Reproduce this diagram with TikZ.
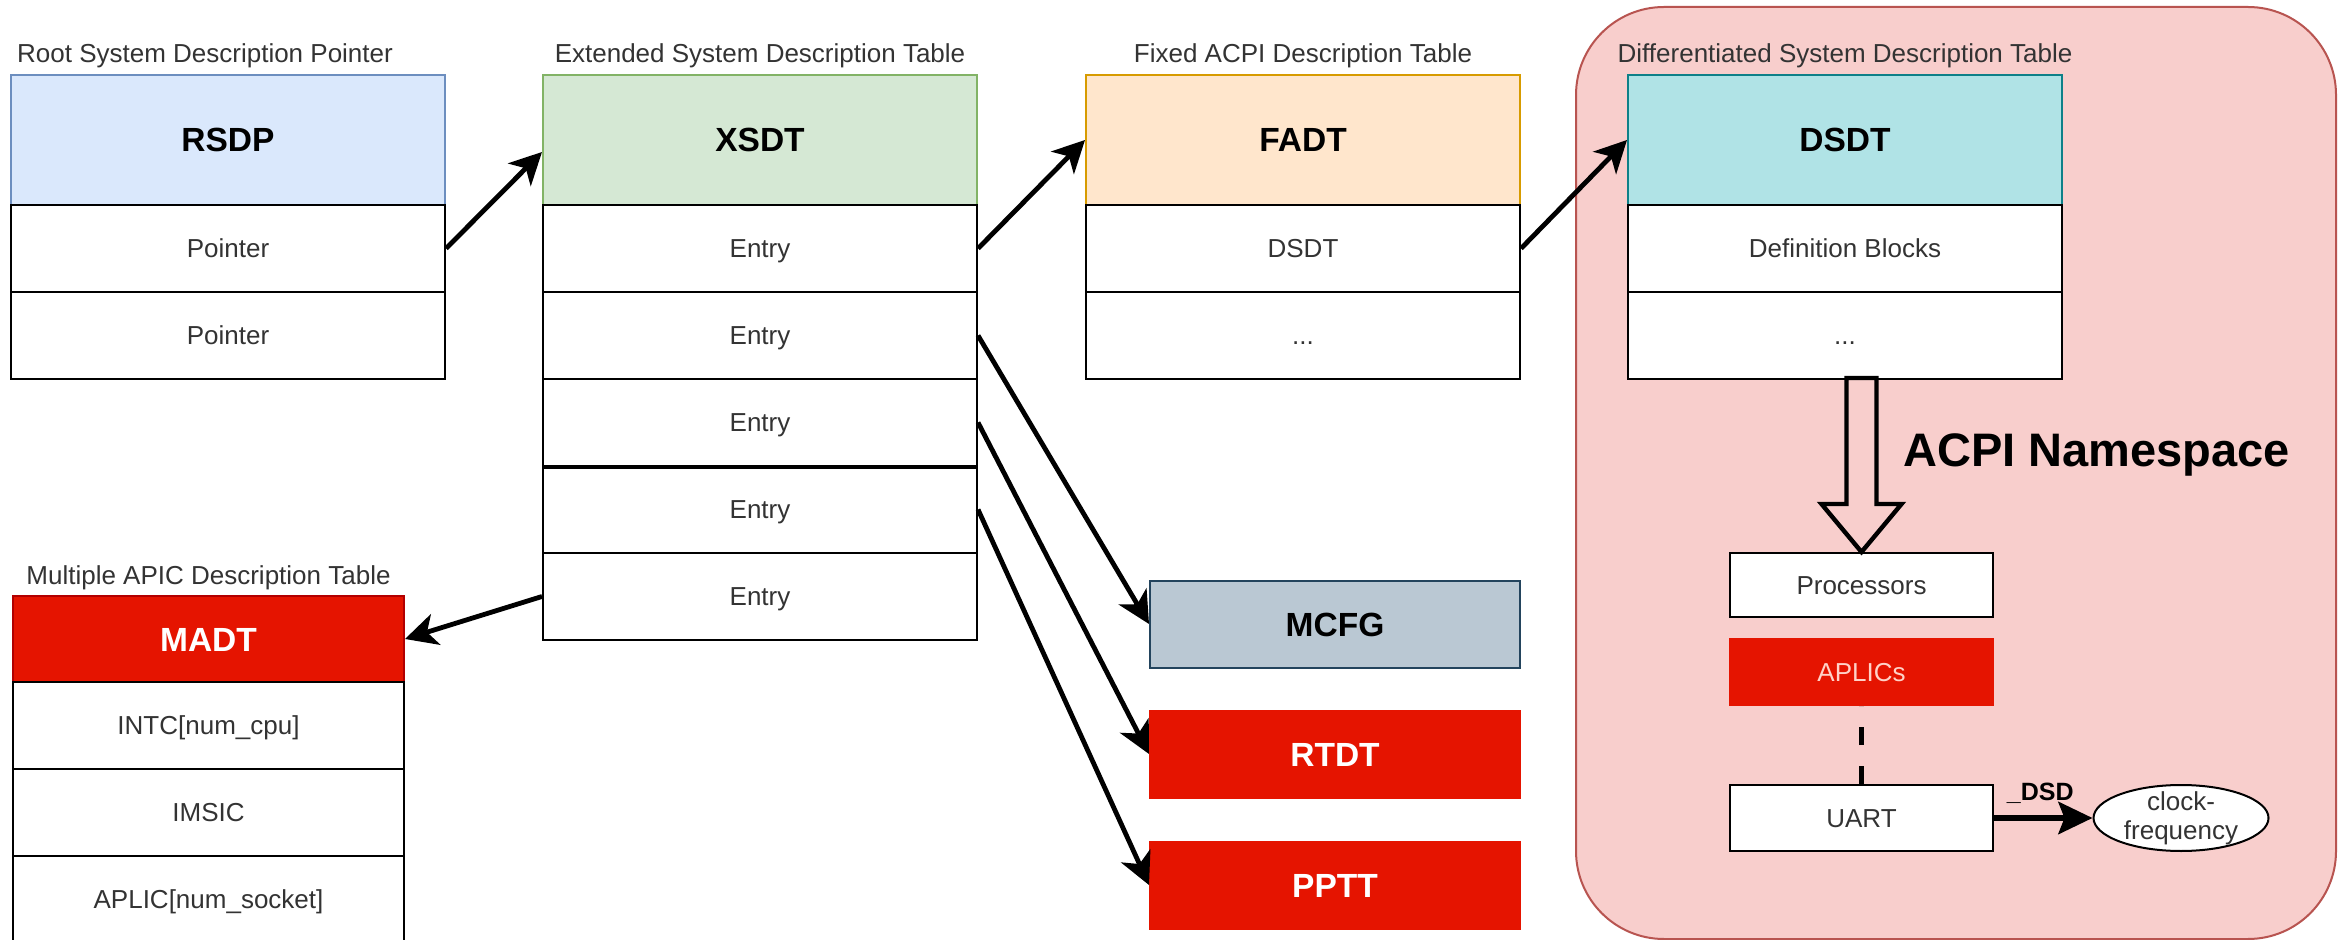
\documentclass[tikz,border=0pt]{standalone}
\usepackage{fontspec}
\setmainfont{Liberation Sans}
\usetikzlibrary{arrows.meta,calc,shapes.geometric}
\definecolor{blueF}{HTML}{DAE8FC}\definecolor{blueD}{HTML}{6C8EBF}
\definecolor{greenF}{HTML}{D5E8D4}\definecolor{greenD}{HTML}{82B366}
\definecolor{orangeF}{HTML}{FFE6CC}\definecolor{orangeD}{HTML}{D79B00}
\definecolor{tealF}{HTML}{B0E3E6}\definecolor{tealD}{HTML}{0E8088}
\definecolor{slateF}{HTML}{BAC8D3}\definecolor{slateD}{HTML}{23445D}
\definecolor{redF}{HTML}{E51400}\definecolor{redD}{HTML}{B20000}
\definecolor{pinkF}{HTML}{F8CECC}\definecolor{pinkD}{HTML}{B85450}
\definecolor{txt}{HTML}{333333}
\definecolor{aplicTxt}{HTML}{FFD2C8}
\newcommand\fRow{\fontsize{13}{14.5}\selectfont}
\newcommand\fHead{\fontsize{16.75}{20}\selectfont\bfseries}
\newcommand\fBig{\fontsize{23.5}{28}\selectfont\bfseries}
\newcommand\fDsd{\fontsize{12.5}{15}\selectfont\bfseries}
\begin{document}
\begin{tikzpicture}[x=0.5pt,y=-0.5pt,
  cell/.style={rectangle, draw=black, line width=1pt, fill=white, inner sep=0pt,
    text=txt, font=\fRow, text height=9.3pt, text depth=0pt},
  tw/.style={minimum width=217pt, minimum height=43.5pt},
  head/.style={cell, minimum width=217pt, minimum height=65pt, font=\fHead,
    text=black, text height=12pt},
  bigbox/.style={cell, minimum width=185pt, minimum height=43.5pt, font=\fHead, text height=12pt},
  sbox/.style={cell, minimum width=131.5pt, minimum height=33pt},
  lbl/.style={inner sep=0pt, font=\fRow, text=txt, anchor=base},
  conn/.style={draw=black, line width=2.4pt, -{Stealth[length=16pt,width=16pt,inset=4.5pt]}},
  dsdarrow/.style={draw=black, line width=3.2pt, -{Stealth[length=17pt,width=16pt,inset=3pt]}},
  dashline/.style={draw=black, line width=2.5pt, dash pattern=on 9pt off 10.5pt},
  hollow/.style={draw=black, line width=2.2pt, line join=miter},
  container/.style={rectangle, draw=pinkD, fill=pinkF, line width=1pt, rounded corners=44pt,
    minimum width=380pt, minimum height=466pt, inner sep=0pt}
]
\clip (0,0) rectangle (2349,940);
\fill[white] (0,0) rectangle (2349,940);

% container
\node[container] (ns) at (1956,473) {};

% RSDP
\node[lbl] (rsdpL) at (205,63) {Root System Description Pointer};
\node[head, fill=blueF, draw=blueD] (rsdp0) at (228,140) {RSDP};
\node[cell, tw] (rsdp1) at (228,248.5) {Pointer};
\node[cell, tw] (rsdp2) at (228,335.5) {Pointer};

% XSDT
\node[lbl] (xsdtL) at (760,63) {Extended System Description Table};
\node[head, fill=greenF, draw=greenD] (xsdt0) at (760,140) {XSDT};
\node[cell, tw] (xsdt1) at (760,248.5) {Entry};
\node[cell, tw] (xsdt2) at (760,335.5) {Entry};
\node[cell, tw] (xsdt3) at (760,422.5) {Entry};
\node[cell, tw] (xsdt4) at (760,509.5) {Entry};
\node[cell, tw] (xsdt5) at (760,596.5) {Entry};
\draw[line width=2pt] (xsdt3.south west) -- (xsdt3.south east);

% FADT
\node[lbl] (fadtL) at (1303,63) {Fixed ACPI Description Table};
\node[head, fill=orangeF, draw=orangeD] (fadt0) at (1303,140) {FADT};
\node[cell, tw] (fadt1) at (1303,248.5) {DSDT};
\node[cell, tw] (fadt2) at (1303,335.5) {...};

% DSDT
\node[lbl] (dsdtL) at (1845,63) {Differentiated System Description Table};
\node[head, fill=tealF, draw=tealD] (dsdt0) at (1845,140) {DSDT};
\node[cell, tw] (dsdt1) at (1845,248.5) {Definition Blocks};
\node[cell, tw] (dsdt2) at (1845,335.5) {...};

% MADT
\node[lbl] (madtL) at (208.5,584) {Multiple APIC Description Table};
\node[head, minimum width=195.5pt, minimum height=43pt, fill=redF, draw=redD, text=white] (madt0) at (208.5,639) {MADT};
\node[cell, minimum width=195.5pt, minimum height=43.5pt] (madt1) at (208.5,725.5) {INTC[num\_cpu]};
\node[cell, minimum width=195.5pt, minimum height=43.5pt] (madt2) at (208.5,812.5) {IMSIC};
\node[cell, minimum width=195.5pt, minimum height=43.5pt] (madt3) at (208.5,899.5) {APLIC[num\_socket]};

% other tables
\node[bigbox, fill=slateF, draw=slateD, text=black] (mcfg) at (1335,624) {MCFG};
\node[bigbox, fill=redF, draw=redF, text=white] (rtdt) at (1335,754) {RTDT};
\node[bigbox, fill=redF, draw=redF, text=white] (pptt) at (1335,885) {PPTT};

% namespace
\node[sbox, minimum height=32pt] (procs) at (1861.5,585) {Processors};
\node[sbox, fill=redF, draw=redF, text=aplicTxt] (aplics) at (1861.5,672) {APLICs};
\node[sbox] (uart) at (1861.5,818) {UART};
\node[ellipse, draw=black, line width=1pt, fill=white, minimum width=87.5pt, minimum height=33pt, inner sep=0pt] (clk) at (2181,818) {};
\node[inner sep=0pt, font=\fRow, text=txt, align=center] (clkT) at (clk.center) {clock-\\frequency};
\node[inner sep=0pt, font=\fBig, text=black, anchor=base west] (nsL) at (1903,467) {ACPI Namespace};

\draw[hollow] (procs.north) -- ++(-40,-48) -- ++(25,0) -- ++(0,-126) -- ++(30,0) -- ++(0,126) -- ++(25,0) -- cycle;
\draw[dashline] (uart.north) -- (aplics.south);
\draw[dsdarrow] (uart.east) -- node[pos=0.47, anchor=base, yshift=9pt, inner sep=0pt, font=\fDsd, text=black] (dsdL) {\_DSD} (clk.west);

% connectors
\draw[conn] (rsdp1.east) -- ([yshift=-6pt]xsdt0.west);
\draw[conn] (xsdt1.east) -- (fadt0.west);
\draw[conn] (fadt1.east) -- (dsdt0.west);
\draw[conn] (xsdt2.east) -- (mcfg.west);
\draw[conn] (xsdt3.east) -- (rtdt.west);
\draw[conn] (xsdt4.east) -- (pptt.west);
\draw[conn] (xsdt5.west) -- (madt0.east);
\end{tikzpicture}
\end{document}
